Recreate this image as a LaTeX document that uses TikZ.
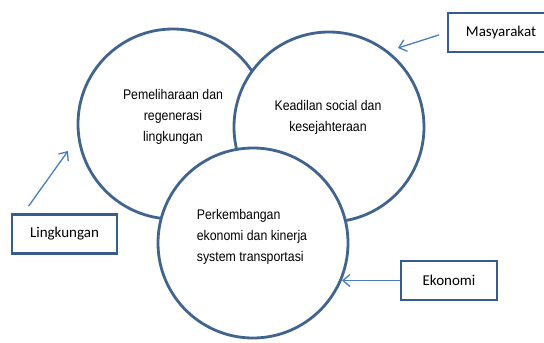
\documentclass[tikz,border=0pt]{standalone}
\usepackage{fontspec}
\setmainfont{Carlito}
\newfontfamily\narrowsans[FakeStretch=0.88]{Liberation Sans}
\usetikzlibrary{arrows.meta}
\definecolor{ringblue}{HTML}{41648F}
\definecolor{boxblue}{HTML}{385D8A}
\definecolor{arrowblue}{HTML}{4A7EBB}

\begin{document}
\begin{tikzpicture}[x=1pt, y=-1pt,
    ring/.style={circle, draw=ringblue, line width=2.8pt, fill=white, minimum size=190pt, inner sep=0pt},
    ringtext/.style={font=\narrowsans\fontsize{14}{21}\selectfont, align=center},
    labelbox/.style={draw=boxblue, line width=2.8pt, fill=white, minimum height=39pt, font=\fontsize{15}{18}\selectfont},
    arr/.style={arrowblue, line width=1.3pt, -{Straight Barb[length=7pt,width=12pt]}}]
    \useasboundingbox (0,0) rectangle (544,343);

    % 三个圆
    \node[ring] (ling) at (173,124) {};
    \node[ring] (sosial) at (329,127) {};
    \node[ring] (eko) at (253,243) {};

    \node[ringtext] (ling-t) at (173,117) {Pemeliharaan dan\\regenerasi\\lingkungan};
    \node[ringtext] (sosial-t) at (328,117.5) {Keadilan social dan\\kesejahteraan};
    \node[ringtext, align=left] (eko-t) at (252,236.5) {Perkembangan\\ekonomi dan kinerja\\system transportasi};

    % 标签框
    \node[labelbox, minimum width=106pt] (masy) at (501,32.5) {Masyarakat};
    \node[labelbox, minimum width=96pt] (ekob) at (449,280.5) {Ekonomi};
    \node[labelbox, minimum width=105pt] (lingb) at (64.5,234) {Lingkungan};

    % 箭头
    \coordinate (masy-tip) at (398,48);
    \coordinate (ling-tip) at (68,151);
    \coordinate (eko-tip) at (342,280.5);
    \draw[arr, shorten <=8pt] (masy.west) -- (masy-tip);
    \draw[arr] ([xshift=18pt,yshift=7pt]lingb.north west) -- (ling-tip);
    \draw[arr] (ekob.west) -- (eko-tip);
\end{tikzpicture}
\end{document}
